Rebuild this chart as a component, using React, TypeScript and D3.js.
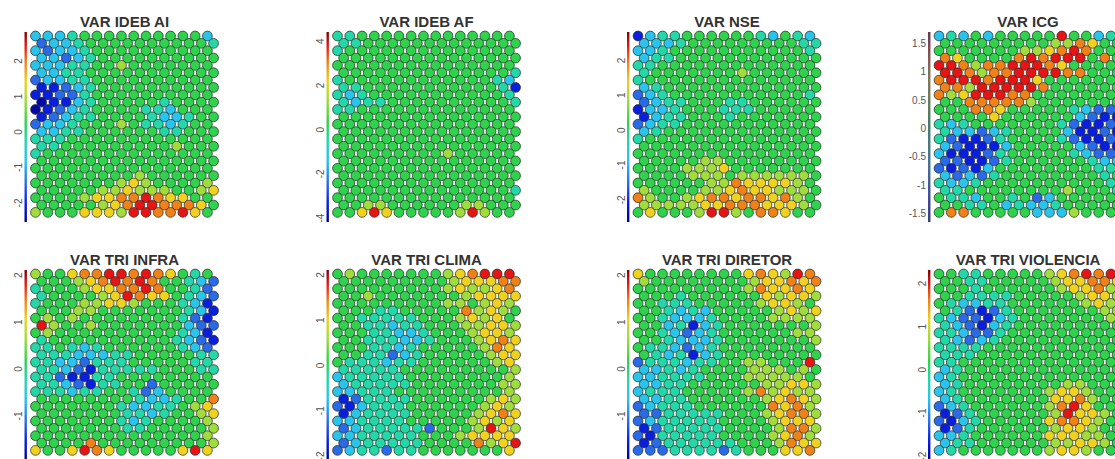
import * as d3 from "d3";
import React, { useEffect, useRef } from "react";

const W = 1115;
const H = 459;

const titles = [
  "VAR IDEB AI", "VAR IDEB AF", "VAR NSE", "VAR ICG",
  "VAR TRI INFRA", "VAR TRI CLIMA", "VAR TRI DIRETOR", "VAR TRI VIOLENCIA",
];

// colorbar limits of each component plane
const ranges: [number, number][] = [
  [-2.55, 2.8], [-4.2, 4.4], [-2.65, 2.8], [-1.65, 1.7],
  [-1.95, 2.1], [-2.1, 2.1], [-1.95, 2.1], [-2.1, 2.3],
];

const ticks: number[][] = [
  [-2, -1, 0, 1, 2], [-4, -2, 0, 2, 4], [-2, -1, 0, 1, 2], [-1.5, -1, -0.5, 0, 0.5, 1, 1.5],
  [-1, 0, 1, 2], [-2, -1, 0, 1, 2], [-1, 0, 1, 2], [-2, -1, 0, 1, 2],
];

// 25 rows x 15 units, one digit per unit = colour level (0 dark blue .. 9 red)
const ideb_ai = [
  "333455555555553", "233455555555554", "323345555555555", "332345555555555", "333445565555555",
  "334455555555555", "233445555555555", "112345555555555", "112245555555555", "011345555545555",
  "012345555443555", "123445555433455", "233455565443455", "334455555544555", "444555555555555",
  "445555555556555", "455555555555555", "555555555555555", "555555555555555", "555555556555555",
  "555555567655556", "555556676665567", "555567788987755", "555556789988875", "655577769988975",
];
const ideb_af = [
  "445555555555555", "445555555555555", "455555555555555", "555555555555555", "555555555555555",
  "555555555555554", "455555555555543", "445555555555541", "434555555555554", "434455555555554",
  "445555555555555", "555555555555555", "555555555555555", "555555555555555", "555555555555555",
  "555555555555555", "555555555655555", "555555555555555", "555555555555555", "555555555555555",
  "555555555555555", "555555555555554", "555555555555555", "556655555566555", "557975555569655",
];
const nse = [
  "134455555543543", "333455555555544", "334555555555554", "344555555555555", "445555555555555",
  "455555556555555", "455555555555555", "345555555555555", "234555555555554", "234455544555555",
  "133455544455555", "134455545555555", "234455555555555", "345555555555555", "455555555555555",
  "555555555555555", "555555555555555", "555556655555555", "555566675555555", "555566656666665",
  "555555668777765", "655556678776665", "865567887887865", "666667788877765", "575556996588755",
];
const icg = [
  "343535555595534", "555555555668755", "555555566789855", "875555898999585", "998688999875555",
  "998688999988555", "899989997555555", "886999998555555", "867999885555555", "558888865555555",
  "555887555554322", "555575555553211", "434555555542112", "433234555531121", "421124555542112",
  "321113555553211", "311124555554322", "221124555555433", "212135555555544", "323245555555545",
  "433455555555554", "445555555565554", "544355452355555", "554453433455555", "588555553336555",
];
const tri_infra = [
  "655788998987545", "555678989855432", "455567788985542", "455556798775432", "455566776555431",
  "555665555555431", "565655555555421", "965565555555322", "565555555555431", "455555555554321",
  "445434555555432", "444333445555544", "443324445555544", "443214444455544", "442114455555555",
  "443214455255555", "444344554235555", "555555554334558", "555555543344567", "555555544345567",
  "555555543455556", "555555544555556", "555555555555556", "555585555555556", "755798755555797",
];
const tri_clima = [
  "565555555678999", "555555555677788", "555555555676678", "556555555567777", "555555555665676",
  "555445555586765", "554444455567675", "554434455566776", "555443345556776", "554443345556787",
  "555443455555687", "554423455555677", "544434455555567", "444445555555556", "344444555555556",
  "344444555555566", "334445555555556", "124444555555676", "213444555555676", "134444555556787",
  "334444555556767", "234444425556976", "334444455567777", "234444455558679", "234424455555557",
];
const tri_diretor = [
  "755555555787698", "655555555677878", "555555555687787", "555455555576776", "554445555567765",
  "554343555556767", "554333455556666", "553413455555556", "554323455555566", "554333455555556",
  "544323455555555", "543413455555555", "244434455665559", "334345555666565", "334444555666665",
  "334455555566776", "344455555686766", "334455555567876", "234445555558786", "224444455567886",
  "234444455556777", "124444455556886", "214444455556786", "124444445556877", "222444424555778",
];
const tri_violencia = [
  "554455555678989", "554455555677887", "555455555567786", "554444555556776", "543344555555676",
  "542124555555566", "432213455555556", "432134555555555", "443224555555555", "432345555555555",
  "444455555555555", "444555555555555", "445555555555555", "345555555555555", "345555555555555",
  "345555555566555", "345555555677655", "345555555778655", "234555555689755", "124555555697765",
  "213455555788765", "124555555677655", "334555555777665", "344555555667765", "345555555677655",
];

const grids = [ideb_ai, ideb_af, nse, icg, tri_infra, tri_clima, tri_diretor, tri_violencia];

// position of each digit level inside the colour range
const levelPos = [0.03, 0.1, 0.2, 0.32, 0.43, 0.52, 0.64, 0.74, 0.84, 0.93];

// jet-like colormap
const cmapStops = [0, 0.1, 0.2, 0.32, 0.43, 0.52, 0.64, 0.74, 0.84, 0.93, 1];
const cmapColors = [
  "#00008f", "#0a1ee0", "#2a6ae8", "#28c4ee", "#22d8a8", "#2ed24c",
  "#a0dc3c", "#f0d21e", "#f08018", "#e61414", "#800000",
];

const FONT = "'Liberation Sans', Arial, sans-serif";

export default function App() {
  const svgRef = useRef<SVGSVGElement | null>(null);

  useEffect(() => {
    const svg = d3.select(svgRef.current);
    svg.selectAll("*").remove();

    const jet = d3.scaleLinear<string>()
      .domain(cmapStops)
      .range(cmapColors)
      .interpolate(d3.interpolateRgb)
      .clamp(true);

    const colX = [35.5, 337.5, 638, 939];
    const rowY = [36, 274];
    const dx = 12.28;
    const dy = 7.35;

    const defs = svg.append("defs");

    grids.forEach((grid, i) => {
      const x0 = colX[i % 4];
      const y0 = rowY[Math.floor(i / 4)];
      const [lo, hi] = ranges[i];

      const xs = d3.scaleLinear().domain([0, 1]).range([x0, x0 + dx]);
      const ys = d3.scaleLinear().domain([0, 1]).range([y0, y0 + dy]);
      const norm = d3.scaleLinear().domain([lo, hi]).range([0, 1]);
      const cb = d3.scaleLinear().domain([lo, hi]).range([y0 + 186, y0 - 4]);

      const cells = grid.flatMap((row, r) =>
        row.split("").map((ch, c) => ({ r, c, v: lo + levelPos[+ch] * (hi - lo) }))
      );

      const g = svg.append("g");

      // title
      g.append("text")
        .attr("x", xs(7.25))
        .attr("y", y0 - 9)
        .attr("text-anchor", "middle")
        .attr("font-family", FONT)
        .attr("font-weight", "bold")
        .attr("font-size", 15)
        .attr("fill", "#333")
        .text(titles[i]);

      // colorbar
      const gid = `cbar${i}`;
      const grad = defs.append("linearGradient")
        .attr("id", gid)
        .attr("x1", 0).attr("y1", 1).attr("x2", 0).attr("y2", 0);
      cmapStops.forEach((s, k) => {
        grad.append("stop").attr("offset", s).attr("stop-color", cmapColors[k]);
      });
      const cbx = x0 - 11;
      g.append("rect")
        .attr("x", cbx)
        .attr("y", cb(hi))
        .attr("width", 2.4)
        .attr("height", cb(lo) - cb(hi))
        .attr("fill", `url(#${gid})`)
        .attr("opacity", i === 3 ? 0.55 : 1);
      if (i === 3) {
        g.append("rect")
          .attr("x", cbx).attr("y", cb(hi))
          .attr("width", 2.4).attr("height", cb(lo) - cb(hi))
          .attr("fill", "#0a0a30").attr("opacity", 0.5);
      }

      const axis = d3.axisLeft(cb)
        .tickValues(ticks[i])
        .tickSize(0)
        .tickPadding(2)
        .tickFormat((d) => String(d));
      const ax = g.append("g").attr("transform", `translate(${cbx},0)`).call(axis);
      ax.select(".domain").remove();
      ax.selectAll("text")
        .attr("font-family", FONT)
        .attr("font-size", 10)
        .attr("fill", "#555");
      if (i !== 3) {
        ax.selectAll("text")
          .attr("x", 0)
          .attr("y", -2.5)
          .attr("dy", 0)
          .attr("text-anchor", "middle")
          .attr("transform", "rotate(-90)");
      }

      // units
      g.append("g")
        .selectAll("circle")
        .data(cells)
        .join("circle")
        .attr("cx", (d) => xs(d.c + (d.r % 2 ? 0.5 : 0)))
        .attr("cy", (d) => ys(d.r))
        .attr("r", 4.9)
        .attr("fill", (d) => jet(norm(d.v)))
        .attr("stroke", "#1c2a1c")
        .attr("stroke-width", 0.7);
    });
  }, []);

  return (
    <svg
      ref={svgRef}
      width={W}
      height={H}
      style={{ position: "absolute", left: 0, top: 0, background: "#fff" }}
    />
  );
}
